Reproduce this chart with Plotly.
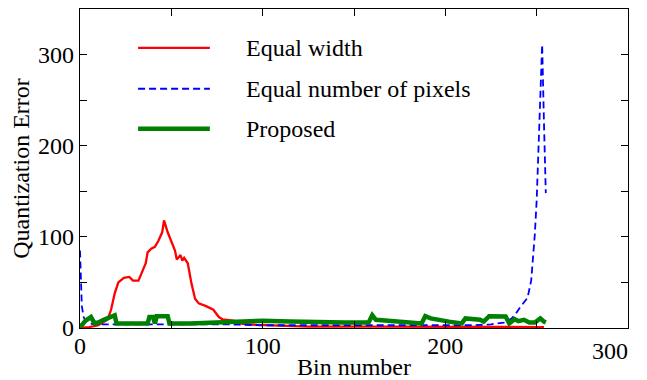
import plotly.graph_objects as go

# Data (bin number, quantization error)
red_bins = [0, 5, 10, 15, 17, 19, 21, 24, 27, 29, 32, 34, 36, 37, 39, 41, 43, 45, 46, 48, 49, 50,
            52, 53, 55, 56, 57, 59, 61, 63, 65, 69, 73, 76, 78, 84, 89, 97, 104, 115, 125, 160, 200, 230, 254]
red_err = [0, 1, 3, 9, 20, 38, 50, 55, 56, 52, 52, 61, 71, 83, 87, 89, 96, 105, 118, 105, 100, 96,
           85, 75, 80, 74, 77, 71, 49, 32, 27, 24, 20, 12, 9.5, 8, 4.5, 3.5, 3, 3, 1.5, 1.5, 1.5, 1.5, 1]

blue_bins = [0, 1, 2, 3, 5, 8, 20, 40, 60, 80, 100, 130, 160, 190, 215, 225, 232, 236, 238, 241,
             245, 247, 248, 249, 250, 251, 252, 253, 254, 255]
blue_err = [85, 24, 12, 8, 5, 4, 4, 4, 4, 4, 3, 3, 3, 3, 3, 4, 6, 10, 14, 23,
            33, 52, 74, 103, 140, 190, 245, 311, 225, 148]

green_bins = [0, 1, 3, 6, 8, 10, 13, 16, 19, 20, 30, 37, 38, 40, 41, 42, 48, 49, 60, 75, 85, 100,
              115, 130, 145, 158, 160, 162, 175, 187, 189, 192, 202, 209, 211, 219, 221, 224, 233,
              235, 238, 240, 243, 246, 249, 252, 254, 255]
green_err = [2, 3, 8, 12, 5, 6, 9, 11, 14, 5, 5, 5, 12, 12, 5, 13, 13, 5, 5, 6, 7, 8,
             7, 6, 6, 6, 14, 9, 7, 5, 13, 10.5, 7, 5, 10.5, 9, 7, 13, 12.7,
             5, 9.6, 7.5, 9, 6, 6, 10.5, 7, 6]

series_names = ["Equal width", "Equal number of pixels", "Proposed"]
x_ticks = [0, 100, 200, 300]
x_tick_text = ["0", "100", "200", ""]   # "300" is drawn separately, as in the reference
y_ticks = [0, 100, 200, 300]

FONT = "Liberation Serif, Times New Roman, serif"
FS = 24
RED, BLUE, GREEN = "#ff0000", "#0000ff", "#008000"

fig = go.Figure()
fig.add_trace(go.Scatter(x=red_bins, y=red_err, mode="lines", name=series_names[0],
                         line=dict(color=RED, width=2.3)))
fig.add_trace(go.Scatter(x=blue_bins, y=blue_err, mode="lines", name=series_names[1],
                         line=dict(color=BLUE, width=1.8, dash="7px,4px")))
fig.add_trace(go.Scatter(x=green_bins, y=green_err, mode="lines", name=series_names[2],
                         line=dict(color=GREEN, width=4.5)))

# Manual legend (line samples + labels) in paper coordinates
leg_y = [0.878, 0.75, 0.625]
leg_styles = [dict(color=RED, width=2.3), dict(color=BLUE, width=1.8, dash="7px,4px"),
              dict(color=GREEN, width=4.5)]
for yy, st, nm in zip(leg_y, leg_styles, series_names):
    fig.add_shape(type="line", xref="paper", yref="paper", x0=0.106, x1=0.237, y0=yy, y1=yy,
                  line=st)
    fig.add_annotation(xref="paper", yref="paper", x=0.30, y=yy, text=nm, showarrow=False,
                       xanchor="left", yanchor="middle", font=dict(size=FS, color="black", family=FONT))

# last x tick label, placed like the reference (shifted inwards)
fig.add_annotation(xref="x", yref="y", x=x_ticks[-1], y=0, text=str(x_ticks[-1]), showarrow=False,
                   xanchor="right", yanchor="top", yshift=-8, xshift=2,
                   font=dict(size=FS, color="black", family=FONT))

axis_common = dict(showline=True, linecolor="black", linewidth=1.2, mirror="ticks",
                   ticks="inside", ticklen=7, tickcolor="black", tickwidth=1,
                   showgrid=False, zeroline=False, automargin=False,
                   tickfont=dict(size=FS, family=FONT, color="black"),
                   minor=dict(ticks="inside", ticklen=7, dtick=50, tickcolor="black", showgrid=False))

fig.update_xaxes(range=[0, 300], tickvals=x_ticks, ticktext=x_tick_text, ticklabelstandoff=-4,
                 title=dict(text="Bin number", font=dict(size=FS, family=FONT, color="black"), standoff=0),
                 **axis_common)
fig.update_yaxes(range=[0, 350], tickvals=y_ticks, ticktext=[str(v) for v in y_ticks],
                 title=dict(text="Quantization Error", font=dict(size=FS, family=FONT, color="black"), standoff=2),
                 **axis_common)

# The page adds an 8px body margin, so the figure is 8px smaller than the window
fig.update_layout(width=639, height=372, margin=dict(l=72, r=19, t=1, b=52),
                  paper_bgcolor="white", plot_bgcolor="white", showlegend=False,
                  font=dict(family=FONT, color="black"))

fig.write_html("out.html")
